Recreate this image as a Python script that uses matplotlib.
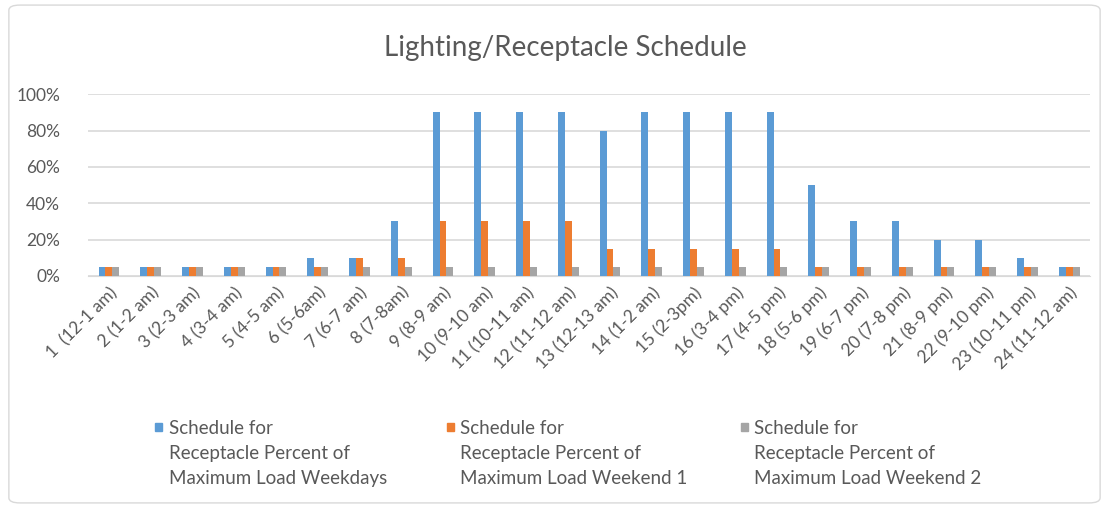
import matplotlib.pyplot as plt
from matplotlib.patches import FancyBboxPatch, Rectangle
from matplotlib.ticker import PercentFormatter
import numpy as np

plt.rcParams['font.family'] = ['Lato', 'DejaVu Sans']

hours = ["1  (12-1 am)", "2 (1-2 am)", "3 (2-3 am)", "4 (3-4 am)", "5 (4-5 am)",
         "6 (5-6am)", "7 (6-7 am)", "8 (7-8am)", "9 (8-9 am)", "10 (9-10 am)",
         "11 (10-11 am)", "12 (11-12 am)", "13 (12-13 am)", "14 (1-2 am)",
         "15 (2-3pm)", "16 (3-4 pm)", "17 (4-5 pm)", "18 (5-6 pm)", "19 (6-7 pm)",
         "20 (7-8 pm)", "21 (8-9 pm)", "22 (9-10 pm)", "23 (10-11 pm)", "24 (11-12 am)"]

weekdays = [5, 5, 5, 5, 5, 10, 10, 30, 90, 90, 90, 90, 80, 90, 90, 90, 90, 50, 30, 30, 20, 20, 10, 5]
weekend1 = [5, 5, 5, 5, 5, 5, 10, 10, 30, 30, 30, 30, 15, 15, 15, 15, 15, 5, 5, 5, 5, 5, 5, 5]
weekend2 = [5] * 24

series_names = ["Schedule for\nReceptacle Percent of\nMaximum Load Weekdays",
                "Schedule for\nReceptacle Percent of\nMaximum Load Weekend 1",
                "Schedule for\nReceptacle Percent of\nMaximum Load Weekend 2"]
colors = ["#5B9BD5", "#ED7D31", "#A5A5A5"]
txt = "#595959"

fig = plt.figure(figsize=(11.09, 5.08), dpi=100)
ax = fig.add_axes([0.0794, 0.4567, 0.9036, 0.358])

x = np.arange(len(hours))
w = 0.165
for k, vals in enumerate([weekdays, weekend1, weekend2]):
    ax.bar(x + (k - 1) * w, vals, width=w, color=colors[k], zorder=3)

ax.set_xlim(-0.5, len(hours) - 0.5)
ax.set_ylim(0, 100)
ax.set_yticks(range(0, 101, 20))
ax.yaxis.set_major_formatter(PercentFormatter(decimals=0))
ax.grid(axis='y', color='#d9d9d9', linewidth=1.2, zorder=0)
for s in ['top', 'right', 'left']:
    ax.spines[s].set_visible(False)
ax.spines['bottom'].set_color('#d9d9d9')
ax.tick_params(axis='both', length=0, colors=txt, labelsize=12.5)
ax.tick_params(axis='y', pad=20)
ax.tick_params(axis='x', pad=6)
ax.set_xticks(x)
ax.set_xticklabels(hours, rotation=45, ha='right', rotation_mode='anchor')

fig.text(0.51, 0.905, "Lighting/Receptacle Schedule", ha='center', va='center',
         fontsize=20, color=txt)

# legend drawn by hand so the colour square sits beside the first line
leg_x = [0.140, 0.403, 0.668]
for k in range(3):
    fig.add_artist(Rectangle((leg_x[k], 0.152), 0.0065, 0.016,
                             transform=fig.transFigure, color=colors[k]))
    fig.text(leg_x[k] + 0.012, 0.173, series_names[k], ha='left', va='top',
             fontsize=13.5, color=txt, linespacing=1.55, transform=fig.transFigure)

fig.add_artist(FancyBboxPatch((0.008, 0.01), 0.984, 0.98,
                              boxstyle="round,pad=0,rounding_size=0.01",
                              transform=fig.transFigure, fill=False,
                              edgecolor='#d9d9d9', linewidth=1))

fig.savefig("out.png", dpi=100)
